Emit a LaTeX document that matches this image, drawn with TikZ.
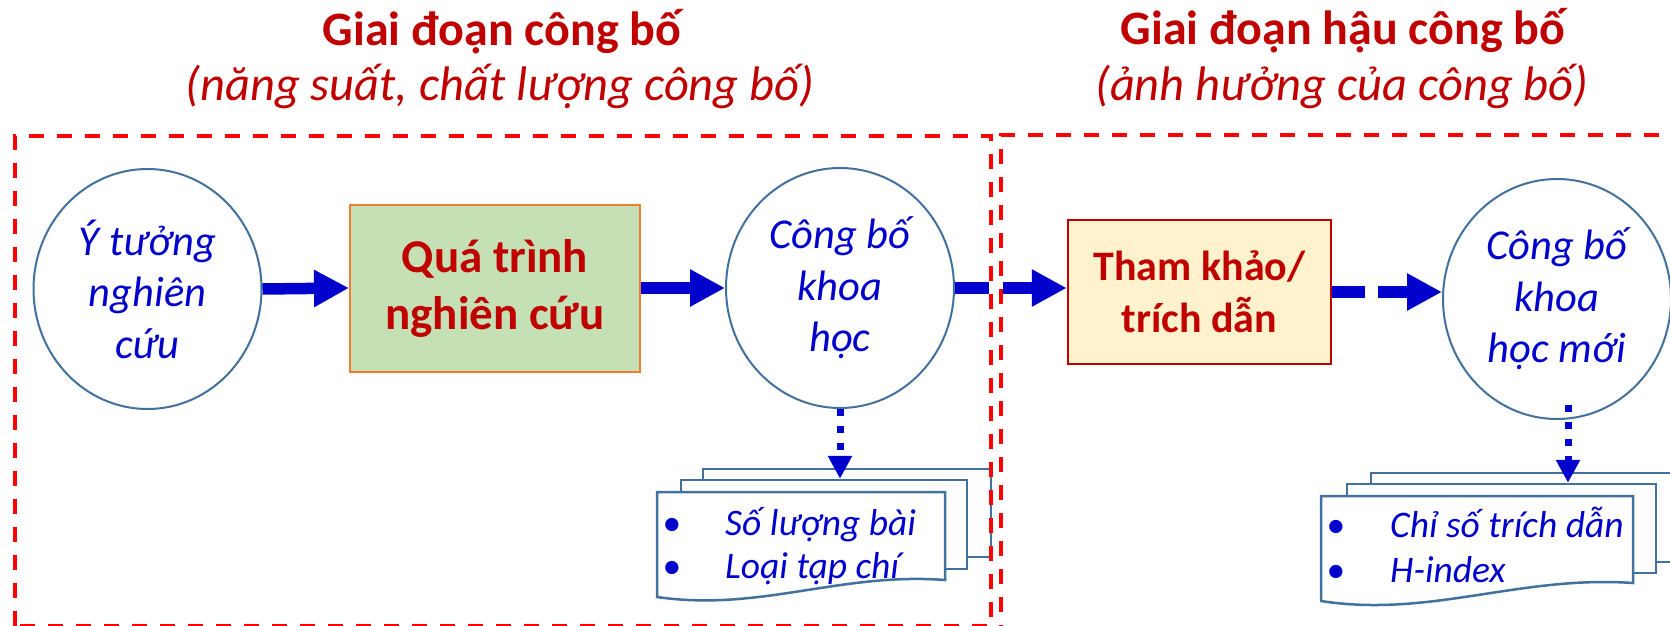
\documentclass[tikz,border=0pt]{standalone}
\usepackage{fontspec}
\setmainfont{Carlito}
\usetikzlibrary{shapes.geometric,arrows.meta}
\definecolor{dred}{HTML}{C00000}
\definecolor{tblue}{HTML}{0000CC}
\definecolor{ablue}{HTML}{0000CC}
\definecolor{edgeblue}{HTML}{41719C}
\definecolor{gfill}{HTML}{C5E0B4}
\definecolor{gedge}{HTML}{ED7D31}
\definecolor{yfill}{HTML}{FFF2CC}
\definecolor{rdash}{HTML}{FF0000}
\tikzset{
  titletext/.style={text=dred, font=\fontsize{48}{56}\selectfont\bfseries, inner sep=0pt, anchor=base},
  subtext/.style={text=dred, font=\fontsize{48.5}{56}\selectfont\itshape, inner sep=0pt, anchor=base},
  bubble/.style={ellipse, draw=edgeblue, line width=2pt, fill=white, minimum width=228pt, minimum height=240pt, inner sep=0pt, align=center, text=tblue, font=\fontsize{42.5}{51.5}\selectfont\itshape},
  procbox/.style={rectangle, line width=2.5pt, inner sep=0pt, align=center, text=dred},
  docpage/.style={rectangle, draw=edgeblue, line width=2.5pt, fill=white, inner sep=0pt},
  docline/.style={draw=edgeblue, line width=2.5pt, fill=white},
  doctext/.style={text=tblue, font=\fontsize{37.5}{44}\selectfont\itshape, inner sep=0pt, anchor=base west},
  bullettext/.style={text=tblue, font=\fontsize{37.5}{44}\selectfont, inner sep=0pt, anchor=base},
  bigarrow/.style={draw=ablue, line width=11.5pt, -{Triangle[length=35pt,width=35pt]}},
  dasharrow/.style={bigarrow, dash pattern=on 33pt off 13pt},
  dotarrow/.style={draw=ablue, line width=7pt, dash pattern=on 7pt off 10pt, -{Triangle[length=23pt,width=23pt]}},
  phasebox/.style={draw=rdash, line width=4pt, dash pattern=on 15pt off 13pt}
}
\begin{document}
\begin{tikzpicture}[x=1pt,y=-1pt]
\useasboundingbox[fill=white] (0,0) rectangle (1670,626);

% titles
\node[titletext] (t1) at (502,46) {Giai đoạn công bố};
\node[subtext] (s1) at (500,100) {(năng suất, chất lượng công bố)};
\node[titletext] (t2) at (1343,45) {Giai đoạn hậu công bố};
\node[subtext] (s2) at (1342,100) {(ảnh hưởng của công bố)};

% main nodes
\node[bubble] (c1) at (147.5,289) {Ý tưởng\\nghiên\\cứu};
\node[procbox, draw=gedge, line width=2pt, fill=gfill, minimum width=290pt, minimum height=167pt,
      font=\fontsize{47}{57}\selectfont\bfseries] (g) at (495,288) {Quá trình\\nghiên cứu};
\node[bubble] (c2) at (840,288) {Công bố\\khoa\\học};
\node[procbox, draw=dred, fill=yfill, minimum width=263pt, minimum height=144pt,
      font=\fontsize{42}{52}\selectfont\bfseries] (tk) at (1199.5,292) {Tham khảo/\\trích dẫn};
\node[bubble] (c3) at (1557,299) {Công bố\\khoa\\học mới};

% arrows
\draw[bigarrow] (c1.east) -- (g.west);
\draw[bigarrow] (g.east) -- (c2.west);
\draw[bigarrow] (c2.east) -- (c2.east -| tk.west);
\draw[dasharrow] (tk.east) -- (tk.east -| c3.west);

% left document stack
\node[docpage, minimum width=288pt, minimum height=88pt] (bk1) at (847,513) {};
\node[docpage, minimum width=286pt, minimum height=89pt] (md1) at (824,524.5) {};
\draw[docline] (657,492) -- (945,492) -- (945,580) .. controls (840,572) and (760,612) .. (657,597) -- cycle;
\node[bullettext] (b11) at (672,535) {•};
\node[doctext] (d11) at (725,535) {Số lượng bài};
\node[bullettext] (b12) at (672,578) {•};
\node[doctext] (d12) at (725,578) {Loại tạp chí};
\draw[dotarrow] (c2.south) -- (c2.south |- md1.north);

% right document stack
\node[docpage, minimum width=312pt, minimum height=89pt] (bk2) at (1527,517.5) {};
\node[docpage, minimum width=309pt, minimum height=89pt] (md2) at (1501.5,528.5) {};
\draw[docline] (1321,496) -- (1633,496) -- (1633,583) .. controls (1520,575) and (1430,618) .. (1321,601) -- cycle;
\node[bullettext] (b21) at (1336,537) {•};
\node[doctext] (d21) at (1390,537) {Chỉ số trích dẫn};
\node[bullettext] (b22) at (1336,582) {•};
\node[doctext] (d22) at (1390,582) {H-index};
\coordinate (s3) at (1568,405);
\draw[dotarrow] (s3) -- (s3 |- md2.north);

% phase boxes
\fill[white] (989,280) rectangle (1003,297);
\draw[phasebox] (15,626) -- (15,136) -- (991,136) -- (991,626) -- cycle;
\draw[phasebox] (1001,640) -- (1001,135) -- (1700,135);
\end{tikzpicture}
\end{document}
